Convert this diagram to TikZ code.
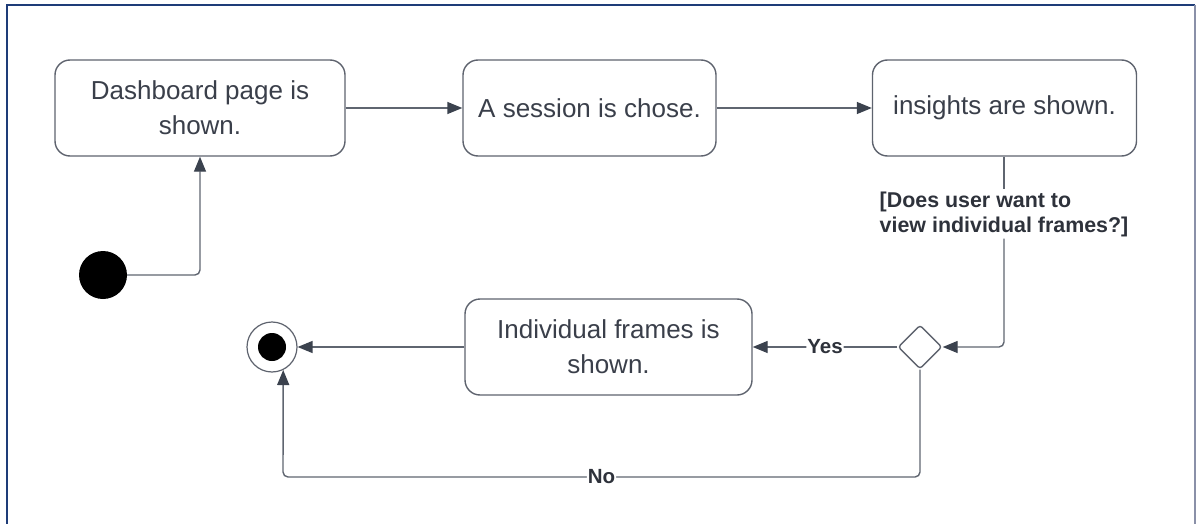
\documentclass[tikz,border=0pt]{standalone}
\usepackage{fontspec}
\setmainfont{Liberation Sans}
\usetikzlibrary{arrows.meta,shapes.geometric,calc}
\definecolor{framenavy}{HTML}{1E3C78}
\definecolor{frameside}{HTML}{8A90A8}
\definecolor{boxline}{HTML}{5E636E}
\definecolor{textc}{HTML}{3A3F4A}
\definecolor{linec}{HTML}{5F6570}
\definecolor{tipc}{HTML}{3B424E}
\tikzset{
  x=1pt, y=-1pt,
  stbox/.style={draw=boxline, line width=1.4pt, rounded corners=15pt, fill=white,
    align=center, text=textc, inner sep=0pt,
    font=\fontsize{26}{35}\selectfont},
  conn/.style={draw=linec, line width=1.4pt, rounded corners=5pt,
    -{Triangle[length=15pt,width=12pt,color=tipc]}},
  plainln/.style={draw=linec, line width=1.4pt},
  lbl/.style={fill=white, text=textc!80!black, inner sep=1pt,
    font=\fontsize{20.5}{25}\bfseries\selectfont},
  guard/.style={lbl, align=left, inner xsep=0pt, inner ysep=2pt,
    font=\fontsize{21.4}{25}\bfseries\selectfont},
  decision/.style={diamond, draw=boxline, line width=1.4pt, fill=white,
    minimum width=44pt, minimum height=44pt, inner sep=0pt, rounded corners=3pt},
}
\begin{document}
\begin{tikzpicture}
\useasboundingbox (0,0) rectangle (1196,524);
% outer frame
\draw[framenavy, line width=2.5pt] (7,530) -- (7,5) -- (1195,5);
\draw[frameside, line width=1.5pt] (1195,5) -- (1195,530);

% states
\node[stbox, minimum width=290pt, minimum height=96pt] (dash) at (200,108)
  {Dashboard page is\\shown.};
\node[stbox, minimum width=253pt, minimum height=96pt] (sess) at (589.5,108)
  {A session is chose.};
\node[stbox, minimum width=264pt, minimum height=96pt] (ins) at (1004.5,108)
  {insights are shown.};
\node[stbox, minimum width=287pt, minimum height=96pt] (frames) at (608.5,347)
  {Individual frames is\\shown.};

% pseudo states
\node[circle, fill=black, minimum size=48pt, inner sep=0pt] (init) at (103,275) {};
\node[circle, draw=boxline, line width=1.2pt, fill=white, minimum size=50pt,
  inner sep=0pt] (fin) at (272,347) {};
\node[circle, fill=black, minimum size=28pt, inner sep=0pt] at (fin) {};
\node[decision] (dec) at (920,347) {};

% guard text on the branch leaving the insights state
\node[guard] (q) at (1004,214) {[Does user want to\\view individual frames?]};
\coordinate (nob) at (283,477);

% transitions
\draw[conn] (init.east) -| (dash.south);
\draw[conn] (dash.east) -- (sess.west);
\draw[conn] (sess.east) -- (ins.west);
\draw[plainln] (ins.south -| q.north) -- (q.north);
\draw[conn] (q.south) |- (dec.east);
\draw[conn] (dec.west) -- node[lbl] {Yes} (frames.east);
\draw[conn] (frames.west) -- (fin.east);
\draw[conn] (dec.south) |- node[lbl, pos=0.75] {No} (nob) -- (fin.-64);
\end{tikzpicture}
\end{document}
